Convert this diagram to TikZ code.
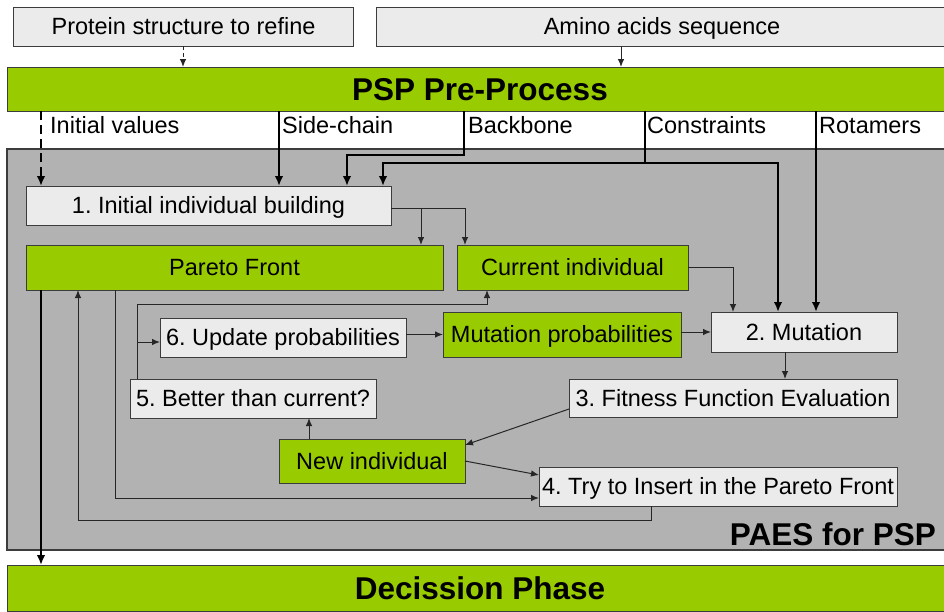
\documentclass[tikz,border=0pt]{standalone}
\usepackage{fontspec}
\setmainfont{Liberation Sans}
\usetikzlibrary{arrows.meta,calc}
\definecolor{leaf}{HTML}{99CC00}
\definecolor{pale}{HTML}{EBEBEB}
\definecolor{panel}{HTML}{B2B2B2}
\definecolor{rim}{HTML}{3C3C3C}
\frenchspacing

\begin{document}
\begin{tikzpicture}[x=1pt,y=-1pt,
  box/.style={draw=rim, line width=1pt, inner sep=0pt, outer sep=0pt,
    text height=16.9pt, text depth=0pt,
    font=\fontsize{23.5}{28}\selectfont},
  lightbox/.style={box, fill=pale},
  greenbox/.style={box, fill=leaf},
  bar/.style={draw=rim, line width=1pt, fill=leaf, inner sep=0pt, outer sep=0pt,
    text height=22.7pt, text depth=0pt,
    font=\fontsize{31.5}{36}\selectfont\bfseries},
  tag/.style={anchor=west, inner sep=0pt, text height=16.9pt, text depth=0pt,
    font=\fontsize{23.5}{28}\selectfont},
  flow/.style={draw=black!85, line width=1pt, -{Latex[length=8pt,width=6.5pt]}},
  feed/.style={draw=black, line width=2.5pt, -{Latex[length=10pt,width=8.5pt]}},
  feedline/.style={draw=black, line width=2.5pt},
  ]
\fill[white] (0,0) rectangle (944,611);
\useasboundingbox (0,0) rectangle (944,611);
\clip (0,0) rectangle (944,611);

% inputs and the pre-processing bar
\node[lightbox, minimum width=340, minimum height=39] (prot) at (183.5,26.5) {Protein structure to refine};
\node[lightbox, minimum width=572, minimum height=39] (amino) at (662,26.5) {Amino acids sequence};
\node[bar, minimum width=946, minimum height=44] (psp) at (480,89) {PSP Pre-Process};

% the PAES panel
\node[draw=rim, line width=1.2pt, fill=panel, inner sep=0pt, outer sep=0pt,
      minimum width=953, minimum height=401] (paes) at (483.5,349.5) {};
\node[anchor=base east, inner sep=0pt, font=\fontsize{31.5}{36}\selectfont\bfseries] (paeslbl) at (936,545) {PAES for PSP};

% decision bar
\node[bar, minimum width=946, minimum height=46] (dec) at (480,588) {Decission Phase};

% data labels
\node[tag] (lini) at (50,125.5) {Initial values};
\node[tag] (lsc) at (282,125.5) {Side-chain};
\node[tag] (lbb) at (468,125.5) {Backbone};
\node[tag] (lcon) at (647,125.5) {Constraints};
\node[tag] (lrot) at (819,125.5) {Rotamers};

% algorithm steps
\node[lightbox, minimum width=365, minimum height=39] (b1) at (208.5,205.5) {1. Initial individual building};
\node[greenbox, minimum width=417, minimum height=45] (pareto) at (234.5,267.5) {Pareto Front};
\node[greenbox, minimum width=231, minimum height=45] (cur) at (572.5,267.5) {Current individual};
\node[lightbox, minimum width=246, minimum height=39] (b6) at (283,337.5) {6. Update probabilities};
\node[greenbox, minimum width=238, minimum height=45] (mp) at (562,334.5) {Mutation probabilities};
\node[lightbox, minimum width=186, minimum height=40] (b2) at (804,332) {2. Mutation};
\node[lightbox, minimum width=328, minimum height=38] (b3) at (733,398) {3. Fitness Function Evaluation};
\node[lightbox, minimum width=246, minimum height=39] (b5) at (253,398.5) {5. Better than current?};
\node[greenbox, minimum width=186, minimum height=44] (ni) at (372,461) {New individual};
\node[lightbox, minimum width=358, minimum height=39] (b4) at (718,486.5) {4. Try to Insert in the Pareto Front};

% routing columns and rows
\coordinate (xprot) at (183,0);
\coordinate (xam) at (621,0);
\coordinate (xini) at (41,0);
\coordinate (xsc) at (279,0);
\coordinate (xbb) at (464,0);
\coordinate (xbbin) at (347,0);
\coordinate (xcon) at (645,0);
\coordinate (xconl) at (383,0);
\coordinate (xconr) at (778,0);
\coordinate (xrot) at (816,0);
\coordinate (ybb) at (0,155);
\coordinate (ycon) at (0,163);
\coordinate (yb1) at (0,208);
\coordinate (xpf) at (421,0);
\coordinate (xcur) at (465,0);
\coordinate (xcm) at (733,0);
\coordinate (xmu) at (785,0);
\coordinate (xni) at (309,0);
\coordinate (xpo) at (115,0);
\coordinate (xret) at (651,0);
\coordinate (yret) at (0,520);
\coordinate (xpin) at (78,0);
\coordinate (xup) at (137,0);
\coordinate (yup) at (0,304);
\coordinate (yb6) at (0,342);
\coordinate (xcin) at (487,0);

% inputs into the pre-process
\draw[flow, dash pattern=on 4pt off 3pt] (prot.south -| xprot) -- (psp.north -| xprot);
\draw[flow] (amino.south -| xam) -- (psp.north -| xam);

% pre-process outputs
\draw[feed, dash pattern=on 9pt off 5pt] (psp.south -| xini) -- (b1.north -| xini);
\draw[feed] (psp.south -| xsc) -- (b1.north -| xsc);
\draw[feed] (psp.south -| xbb) -- (xbb |- ybb) -| (b1.north -| xbbin);
\draw[feedline] (psp.south -| xcon) -- (xcon |- ycon);
\draw[feed] (xcon |- ycon) -| (b1.north -| xconl);
\draw[feed] (xcon |- ycon) -| (b2.north -| xconr);
\draw[feed] (psp.south -| xrot) -- (b2.north -| xrot);

% main loop
\draw[flow] (b1.east |- yb1) -| (cur.north -| xcur);
\draw[flow] (xpf |- yb1) -- (pareto.north -| xpf);
\draw[flow] (cur.east) -| (b2.north -| xcm);
\draw[flow] (b2.west -| mp.east) -- (b2.west);
\draw[flow] (mp.west -| b6.east) -- (mp.west);
\draw[flow] (b2.south -| xmu) -- (b3.north -| xmu);
\draw[flow] ($(b3.west)+(0,11)$) -- ($(ni.east)+(0,-16)$);
\draw[flow] (ni.north -| xni) -- (b5.south -| xni);
\draw[flow] (ni.east) -- ($(b4.west)+(0,-11.5)$);
\draw[flow] (pareto.south -| xpo) |- ($(b4.west)+(0,11.5)$);
\draw[flow] (b4.south -| xret) -- (xret |- yret) -| (pareto.south -| xpin);
\draw[flow] (b5.north -| xup) -- (xup |- yup) -| (cur.south -| xcin);
\draw[flow] (xup |- yb6) -- (b6.west |- yb6);

% result to the decision phase
\draw[feed] (pareto.south -| xini) -- (dec.north -| xini);
\end{tikzpicture}
\end{document}
